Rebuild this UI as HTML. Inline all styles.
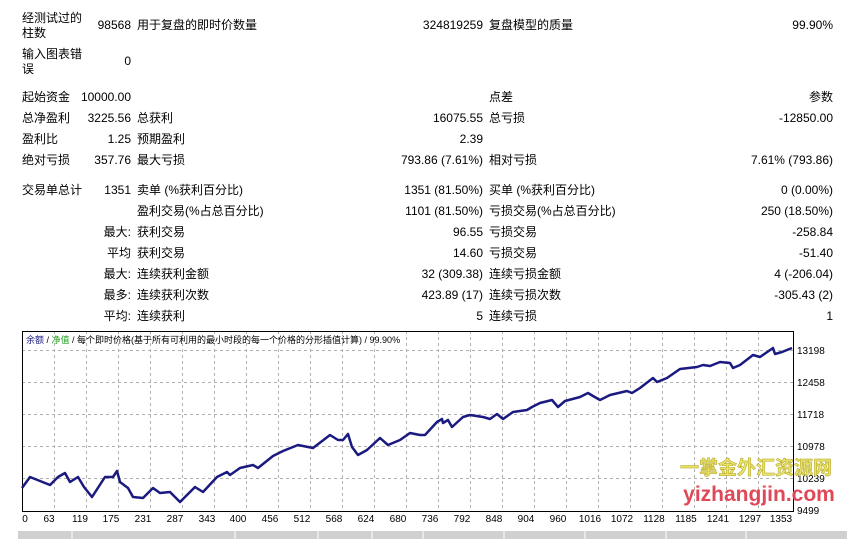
<!DOCTYPE html>
<html><head><meta charset="utf-8"><style>
body{margin:0;width:847px;height:539px;background:#fff;overflow:hidden;position:relative;font-family:"Liberation Sans","Noto Sans CJK SC",sans-serif;font-size:12px;color:#000}
.t{position:absolute;white-space:nowrap;line-height:14px}
.r{text-align:right}
</style></head><body>
<div class="t" style="left:22px;top:11px;line-height:15px">经测试过的<br>柱数</div>
<div class="t r" style="right:716px;top:18px">98568</div>
<div class="t" style="left:137px;top:18px">用于复盘的即时价数量</div>
<div class="t r" style="right:364px;top:18px">324819259</div>
<div class="t" style="left:489px;top:18px">复盘模型的质量</div>
<div class="t r" style="right:14px;top:18px">99.90%</div>
<div class="t" style="left:22px;top:47px;line-height:15px">输入图表错<br>误</div>
<div class="t r" style="right:716px;top:54px">0</div>

<div class="t" style="left:22px;top:90px">起始资金</div>
<div class="t r" style="right:716px;top:90px">10000.00</div>
<div class="t" style="left:489px;top:90px">点差</div>
<div class="t r" style="right:14px;top:90px">参数</div>

<div class="t" style="left:22px;top:111px">总净盈利</div>
<div class="t r" style="right:716px;top:111px">3225.56</div>
<div class="t" style="left:137px;top:111px">总获利</div>
<div class="t r" style="right:364px;top:111px">16075.55</div>
<div class="t" style="left:489px;top:111px">总亏损</div>
<div class="t r" style="right:14px;top:111px">-12850.00</div>

<div class="t" style="left:22px;top:132px">盈利比</div>
<div class="t r" style="right:716px;top:132px">1.25</div>
<div class="t" style="left:137px;top:132px">预期盈利</div>
<div class="t r" style="right:364px;top:132px">2.39</div>

<div class="t" style="left:22px;top:153px">绝对亏损</div>
<div class="t r" style="right:716px;top:153px">357.76</div>
<div class="t" style="left:137px;top:153px">最大亏损</div>
<div class="t r" style="right:364px;top:153px">793.86 (7.61%)</div>
<div class="t" style="left:489px;top:153px">相对亏损</div>
<div class="t r" style="right:14px;top:153px">7.61% (793.86)</div>

<div class="t" style="left:22px;top:183px">交易单总计</div>
<div class="t r" style="right:716px;top:183px">1351</div>
<div class="t" style="left:137px;top:183px">卖单 (%获利百分比)</div>
<div class="t r" style="right:364px;top:183px">1351 (81.50%)</div>
<div class="t" style="left:489px;top:183px">买单 (%获利百分比)</div>
<div class="t r" style="right:14px;top:183px">0 (0.00%)</div>

<div class="t" style="left:137px;top:204px">盈利交易(%占总百分比)</div>
<div class="t r" style="right:364px;top:204px">1101 (81.50%)</div>
<div class="t" style="left:489px;top:204px">亏损交易(%占总百分比)</div>
<div class="t r" style="right:14px;top:204px">250 (18.50%)</div>

<div class="t r" style="right:716px;top:225px">最大:</div>
<div class="t" style="left:137px;top:225px">获利交易</div>
<div class="t r" style="right:364px;top:225px">96.55</div>
<div class="t" style="left:489px;top:225px">亏损交易</div>
<div class="t r" style="right:14px;top:225px">-258.84</div>

<div class="t r" style="right:716px;top:246px">平均</div>
<div class="t" style="left:137px;top:246px">获利交易</div>
<div class="t r" style="right:364px;top:246px">14.60</div>
<div class="t" style="left:489px;top:246px">亏损交易</div>
<div class="t r" style="right:14px;top:246px">-51.40</div>

<div class="t r" style="right:716px;top:267px">最大:</div>
<div class="t" style="left:137px;top:267px">连续获利金额</div>
<div class="t r" style="right:364px;top:267px">32 (309.38)</div>
<div class="t" style="left:489px;top:267px">连续亏损金额</div>
<div class="t r" style="right:14px;top:267px">4 (-206.04)</div>

<div class="t r" style="right:716px;top:288px">最多:</div>
<div class="t" style="left:137px;top:288px">连续获利次数</div>
<div class="t r" style="right:364px;top:288px">423.89 (17)</div>
<div class="t" style="left:489px;top:288px">连续亏损次数</div>
<div class="t r" style="right:14px;top:288px">-305.43 (2)</div>

<div class="t r" style="right:716px;top:309px">平均:</div>
<div class="t" style="left:137px;top:309px">连续获利</div>
<div class="t r" style="right:364px;top:309px">5</div>
<div class="t" style="left:489px;top:309px">连续亏损</div>
<div class="t r" style="right:14px;top:309px">1</div>

<svg style="position:absolute;left:0;top:0" width="847" height="539">
<g stroke="#b0b0b0" stroke-dasharray="3,3" stroke-width="1">
<line x1="22" x2="793" y1="350.5" y2="350.5"/><line x1="22" x2="793" y1="382.5" y2="382.5"/><line x1="22" x2="793" y1="414.5" y2="414.5"/><line x1="22" x2="793" y1="446.5" y2="446.5"/><line x1="22" x2="793" y1="478.5" y2="478.5"/>
<line y1="331" y2="511" x1="54.5" x2="54.5"/><line y1="331" y2="511" x1="86.5" x2="86.5"/><line y1="331" y2="511" x1="118.5" x2="118.5"/><line y1="331" y2="511" x1="150.5" x2="150.5"/><line y1="331" y2="511" x1="182.5" x2="182.5"/><line y1="331" y2="511" x1="214.5" x2="214.5"/><line y1="331" y2="511" x1="246.5" x2="246.5"/><line y1="331" y2="511" x1="278.5" x2="278.5"/><line y1="331" y2="511" x1="310.5" x2="310.5"/><line y1="331" y2="511" x1="342.5" x2="342.5"/><line y1="331" y2="511" x1="374.5" x2="374.5"/><line y1="331" y2="511" x1="406.5" x2="406.5"/><line y1="331" y2="511" x1="438.5" x2="438.5"/><line y1="331" y2="511" x1="470.5" x2="470.5"/><line y1="331" y2="511" x1="502.5" x2="502.5"/><line y1="331" y2="511" x1="534.5" x2="534.5"/><line y1="331" y2="511" x1="566.5" x2="566.5"/><line y1="331" y2="511" x1="598.5" x2="598.5"/><line y1="331" y2="511" x1="630.5" x2="630.5"/><line y1="331" y2="511" x1="662.5" x2="662.5"/><line y1="331" y2="511" x1="694.5" x2="694.5"/><line y1="331" y2="511" x1="726.5" x2="726.5"/><line y1="331" y2="511" x1="758.5" x2="758.5"/>
</g>
<rect x="22.5" y="331.5" width="771" height="180" fill="none" stroke="#000"/>
<polyline fill="none" stroke="#1a1a80" stroke-width="2.5" stroke-linejoin="round" points="22,488 30,477 40,481 50,485 58,477 65,473 70,482 78,477 84,487 92,497 105,477 113,477 117,471 120,482 128,488 133,497 143,498 153,488 160,493 170,492 180,502 195,487 203,492 217,477 227,472 230,475 240,468 253,465 258,468 273,456 283,451 298,445 313,448 330,435 338,440 343,440 348,434 352,447 358,455 367,450 380,438 388,445 400,440 410,433 420,435 425,435 437,422 442,419 443,423 448,420 452,427 463,417 470,415 483,417 490,419 497,414 503,419 513,412 527,410 532,407 540,403 552,400 558,407 565,401 580,397 588,393 593,396 600,400 610,395 627,391 632,393 640,388 653,378 657,382 667,378 680,369 697,367 703,365 710,366 720,362 730,363 733,368 740,365 753,355 760,357 773,348 775,354 782,352 792,348"/>
<g font-family="Liberation Sans,sans-serif" font-size="10" fill="#000">
<text x="797" y="354">13198</text><text x="797" y="386">12458</text><text x="797" y="418">11718</text><text x="797" y="450">10978</text><text x="797" y="482">10239</text><text x="797" y="514">9499</text>
</g>
<g font-family="Liberation Sans,sans-serif" font-size="10" fill="#000" text-anchor="middle">
<text x="25" y="522">0</text><text x="49" y="522">63</text><text x="80" y="522">119</text><text x="111" y="522">175</text><text x="143" y="522">231</text><text x="175" y="522">287</text><text x="207" y="522">343</text><text x="238" y="522">400</text><text x="270" y="522">456</text><text x="302" y="522">512</text><text x="334" y="522">568</text><text x="366" y="522">624</text><text x="398" y="522">680</text><text x="430" y="522">736</text><text x="462" y="522">792</text><text x="494" y="522">848</text><text x="526" y="522">904</text><text x="558" y="522">960</text><text x="590" y="522">1016</text><text x="622" y="522">1072</text><text x="654" y="522">1128</text><text x="686" y="522">1185</text><text x="718" y="522">1241</text><text x="750" y="522">1297</text><text x="781" y="522">1353</text>
</g>
<text x="26" y="343" font-size="9" font-family="Liberation Sans,Noto Sans CJK SC,sans-serif"><tspan fill="#1a1a80">余额</tspan> / <tspan fill="#20a020">净值</tspan> / 每个即时价格(基于所有可利用的最小时段的每一个价格的分形插值计算) / 99.90%</text>
<text x="756" y="474" text-anchor="middle" font-size="19" font-weight="bold" fill="#e8e468" stroke="#b0a020" stroke-width="0.5" font-family="Noto Sans CJK SC,sans-serif">一掌金外汇资源网</text>
<text x="759" y="501" text-anchor="middle" font-size="21" font-weight="bold" fill="#e04858" font-family="Liberation Sans,sans-serif">yizhangjin.com</text>
<rect x="18" y="531" width="829" height="8" fill="#d0d0d0"/>
<g stroke="#fff"><line x1="72" x2="72" y1="531" y2="539"/><line x1="235" x2="235" y1="531" y2="539"/><line x1="318" x2="318" y1="531" y2="539"/><line x1="372" x2="372" y1="531" y2="539"/><line x1="423" x2="423" y1="531" y2="539"/><line x1="504" x2="504" y1="531" y2="539"/><line x1="585" x2="585" y1="531" y2="539"/><line x1="666" x2="666" y1="531" y2="539"/><line x1="746" x2="746" y1="531" y2="539"/></g>
</svg>
</body></html>
